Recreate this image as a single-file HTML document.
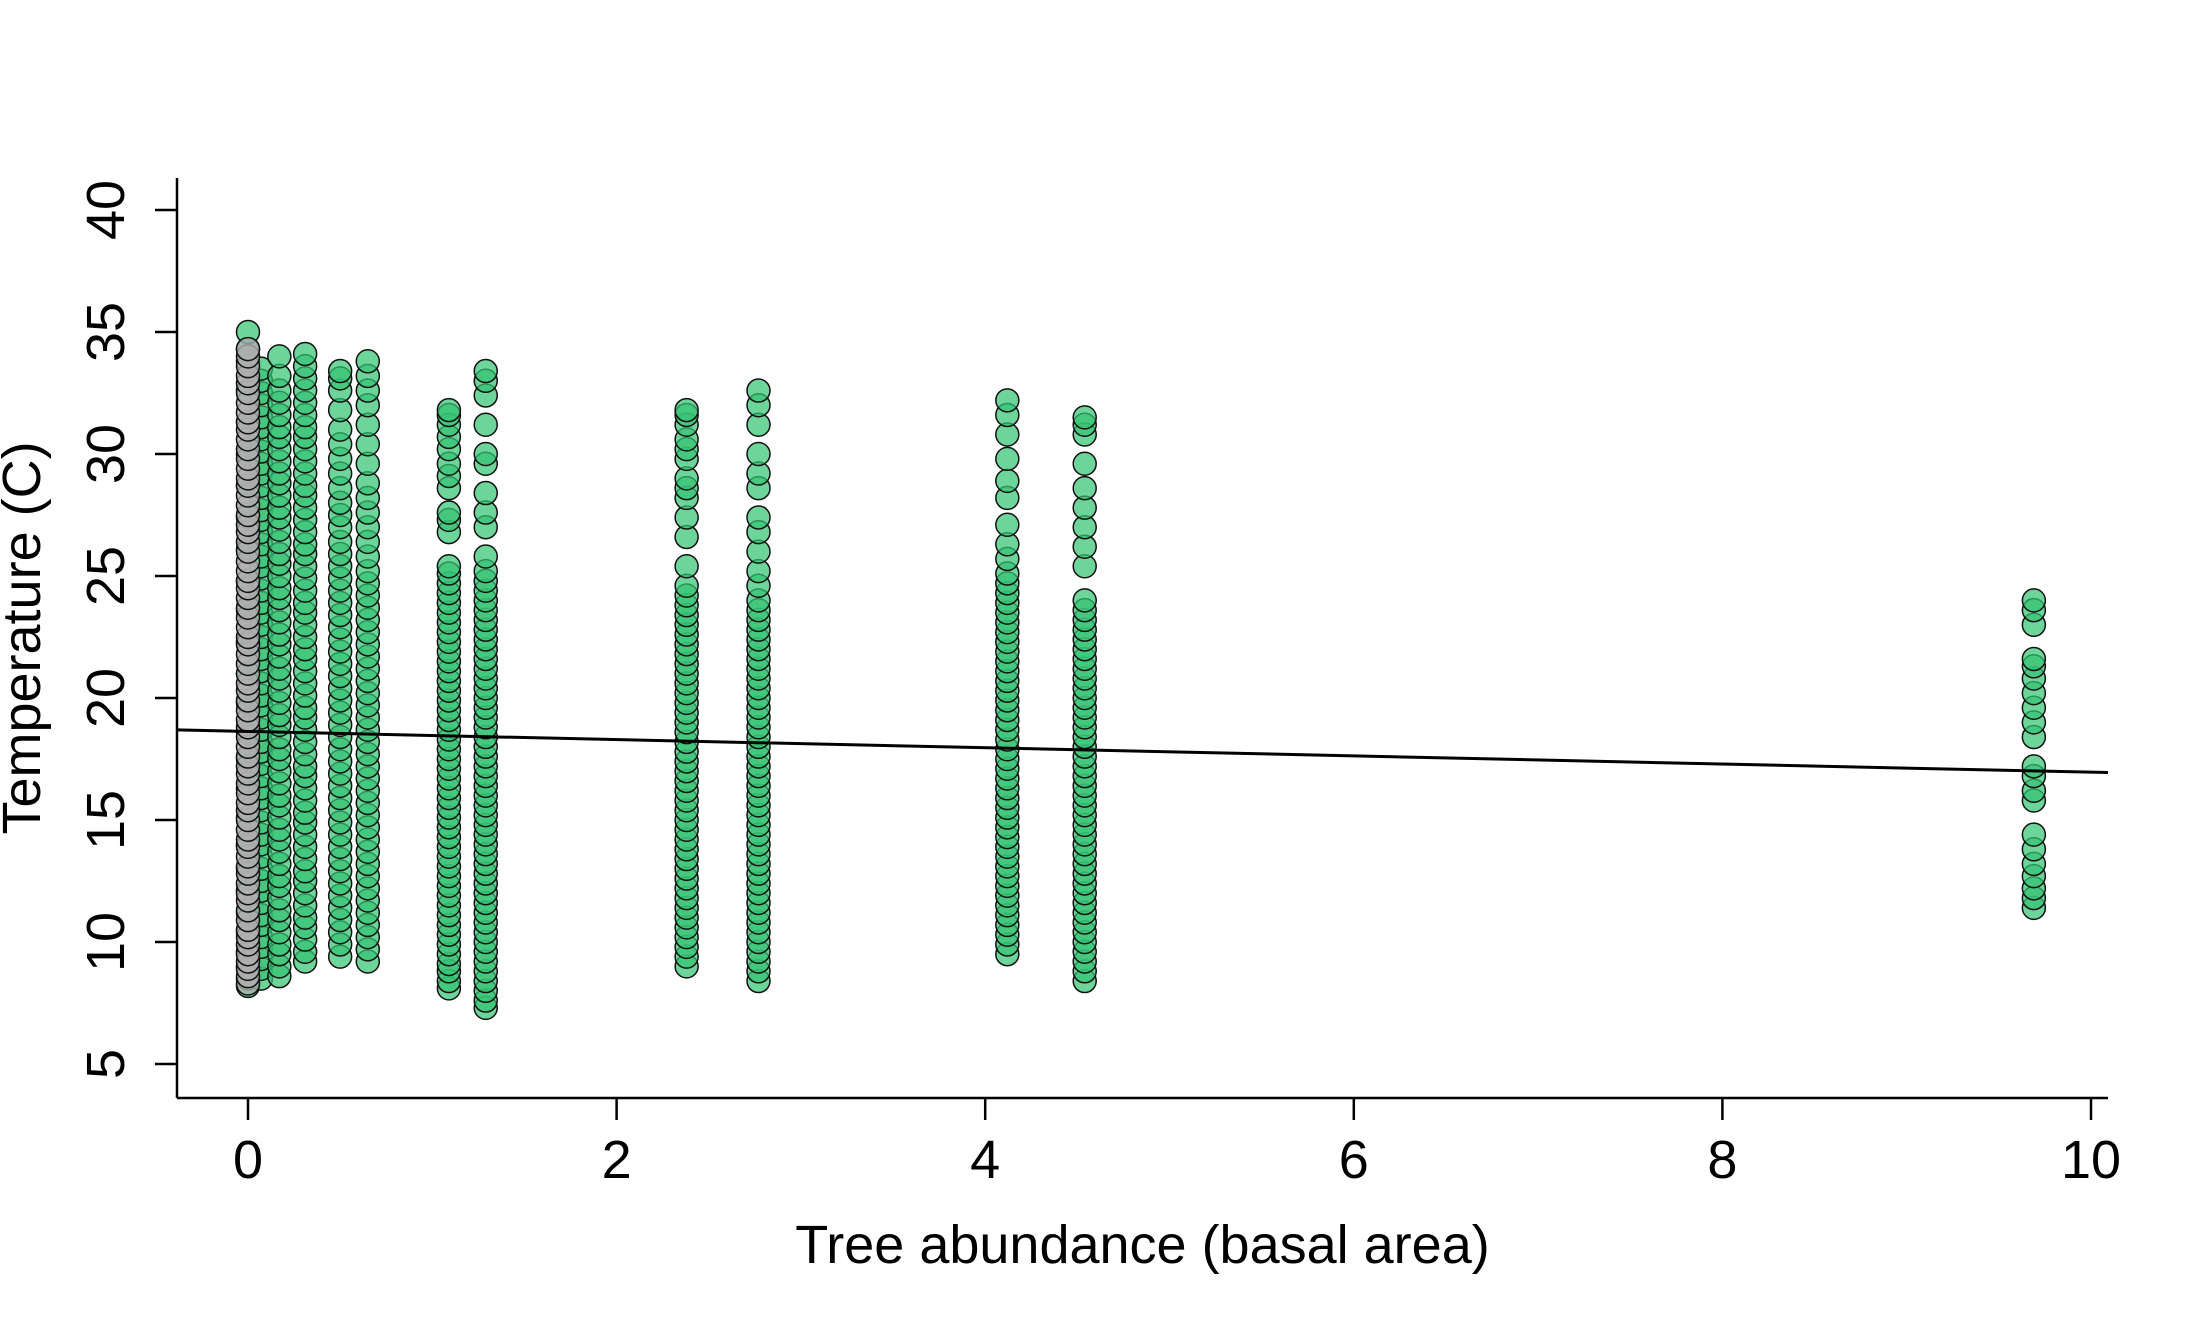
<!DOCTYPE html>
<html><head><meta charset="utf-8"><style>
html,body{margin:0;padding:0;background:#fff;}
svg{display:block;}
text{font-family:"Liberation Sans",sans-serif;fill:#000;}
</style></head><body>
<svg id="chart" width="2200" height="1320" viewBox="0 0 2200 1320" xmlns="http://www.w3.org/2000/svg">
<g id="points"></g>
<g id="axes"></g>
</svg>
<script>
const xTicks = [0, 2, 4, 6, 8, 10];
const yTicks = [5, 10, 15, 20, 25, 30, 35, 40];
const groupX = [0.0, 0.07, 0.0, 0.17, 0.31, 0.50, 0.65, 1.09, 1.29, 2.38, 2.77, 4.12, 4.54, 9.69];
const groupKind = ["green","green","grey","green","green","green","green","green","green","green","green","green","green","green"];
const t0green = [8.2,8.5,9.0,9.6,10.4,11.2,12.1,13.0,14.0,15.1,16.3,17.5,18.6,19.8,21.0,22.3,23.6,24.8,26.1,27.4,28.7,30.0,31.3,32.6,33.8,34.3,35.0];
const t0grey = [8.3,8.6,8.9,9.2,9.5,9.9,10.2,10.5,10.9,11.3,11.7,12.0,12.4,12.8,13.1,13.5,13.9,14.2,14.6,15.0,15.4,15.7,16.1,16.5,16.9,17.2,17.6,18.0,18.4,18.8,19.1,19.5,19.9,20.3,20.6,21.0,21.4,21.8,22.2,22.5,22.9,23.3,23.7,24.1,24.5,24.8,25.2,25.6,26.0,26.4,26.8,27.1,27.5,27.9,28.3,28.7,29.0,29.4,29.8,30.2,30.6,31.0,31.3,31.7,32.1,32.5,32.9,33.2,33.6,34.0,34.3];
const t1 = [8.5,8.9,9.3,9.8,10.2,10.7,11.1,11.6,12.1,12.5,13.0,13.5,14.0,14.4,14.9,15.4,15.9,16.3,16.8,17.3,17.8,18.2,18.7,19.2,19.7,20.1,20.6,21.1,21.6,22.0,22.5,23.0,23.5,23.9,24.4,24.9,25.4,25.8,26.3,26.8,27.3,27.7,28.2,28.7,29.2,29.6,30.1,30.6,31.1,31.5,32.0,32.5,33.0,33.5];
const t2 = [8.6,9.0,9.5,9.9,10.4,10.9,11.3,11.8,12.3,12.7,13.2,13.7,14.2,14.6,15.1,15.6,16.0,16.5,17.0,17.5,17.9,18.4,18.9,19.3,19.8,20.3,20.8,21.2,21.7,22.2,22.6,23.1,23.6,24.1,24.5,25.0,25.5,25.9,26.4,26.9,27.4,27.8,28.3,28.8,29.2,29.7,30.2,30.7,31.1,31.6,32.1,32.6,33.2,34.0];
const t3 = [9.2,9.6,10.1,10.6,11.0,11.5,12.0,12.5,12.9,13.4,13.9,14.4,14.9,15.3,15.8,16.3,16.8,17.2,17.7,18.2,18.7,19.2,19.6,20.1,20.6,21.1,21.6,22.0,22.5,23.0,23.5,23.9,24.4,24.9,25.4,25.9,26.3,26.8,27.3,27.8,28.3,28.7,29.2,29.7,30.2,30.7,31.1,31.6,32.1,32.6,33.1,33.6,34.1];
const t4 = [9.4,9.9,10.4,10.9,11.4,11.9,12.4,12.9,13.4,13.9,14.4,14.9,15.4,15.9,16.4,16.9,17.4,17.9,18.4,18.9,19.4,19.9,20.4,20.9,21.4,21.9,22.4,22.9,23.4,23.9,24.4,24.9,25.4,25.9,26.4,27.0,27.5,28.0,28.6,29.2,29.8,30.4,31.0,31.8,32.6,33.1,33.4];
const t5 = [9.2,9.7,10.2,10.7,11.2,11.7,12.2,12.7,13.2,13.7,14.2,14.7,15.2,15.7,16.2,16.7,17.2,17.7,18.2,18.7,19.2,19.7,20.2,20.7,21.2,21.7,22.2,22.7,23.2,23.7,24.2,24.7,25.2,25.8,26.4,27.0,27.6,28.2,28.8,29.6,30.4,31.2,32.0,32.6,33.2,33.8];
const t6 = [8.1,8.4,8.8,9.1,9.5,9.9,10.3,10.7,11.1,11.5,11.9,12.3,12.7,13.1,13.5,13.9,14.3,14.7,15.1,15.5,15.9,16.3,16.7,17.1,17.5,17.9,18.3,18.7,19.1,19.5,19.9,20.3,20.7,21.1,21.5,21.9,22.3,22.7,23.1,23.5,23.9,24.3,24.7,25.1,25.4,26.8,27.3,27.6,28.6,29.1,29.6,30.2,30.7,31.2,31.6,31.8];
const t7 = [7.3,7.6,8.0,8.4,8.8,9.2,9.6,10.0,10.4,10.8,11.2,11.6,12.0,12.4,12.8,13.2,13.6,14.0,14.4,14.8,15.2,15.6,16.0,16.4,16.8,17.2,17.6,18.0,18.4,18.8,19.2,19.6,20.0,20.4,20.8,21.2,21.6,22.0,22.4,22.8,23.2,23.6,24.0,24.4,24.8,25.2,25.8,27.0,27.6,28.4,29.6,30.0,31.2,32.4,33.0,33.4];
const t8 = [9.0,9.4,9.8,10.2,10.6,11.0,11.4,11.8,12.2,12.6,13.0,13.4,13.8,14.2,14.6,15.0,15.4,15.8,16.2,16.6,17.0,17.4,17.8,18.2,18.6,19.0,19.4,19.8,20.2,20.6,21.0,21.4,21.8,22.2,22.6,23.0,23.4,23.8,24.2,24.6,25.4,26.6,27.4,28.2,28.6,29.0,29.8,30.2,30.6,31.2,31.6,31.8];
const t9 = [8.4,8.8,9.2,9.6,10.0,10.4,10.8,11.2,11.6,12.0,12.4,12.8,13.2,13.6,14.0,14.4,14.8,15.2,15.6,16.0,16.4,16.8,17.2,17.6,18.0,18.4,18.8,19.2,19.6,20.0,20.4,20.8,21.2,21.6,22.0,22.4,22.8,23.2,23.6,24.0,24.6,25.2,26.0,26.8,27.4,28.6,29.2,30.0,31.2,32.0,32.6];
const t10 = [9.5,9.9,10.3,10.7,11.1,11.5,11.9,12.3,12.7,13.1,13.5,13.9,14.3,14.7,15.1,15.5,15.9,16.3,16.7,17.1,17.5,17.9,18.3,18.7,19.1,19.5,19.9,20.3,20.7,21.1,21.5,21.9,22.3,22.7,23.1,23.5,23.9,24.3,24.7,25.1,25.7,26.3,27.1,28.2,28.9,29.8,30.8,31.6,32.2];
const t11 = [8.4,8.8,9.2,9.6,10.0,10.4,10.8,11.2,11.6,12.0,12.4,12.8,13.2,13.6,14.0,14.4,14.8,15.2,15.6,16.0,16.4,16.8,17.2,17.6,18.0,18.4,18.8,19.2,19.6,20.0,20.4,20.8,21.2,21.6,22.0,22.4,22.8,23.2,23.6,24.0,25.4,26.2,27.0,27.8,28.6,29.6,30.8,31.2,31.5];
const t12 = [11.4,11.8,12.2,12.7,13.2,13.8,14.4,15.8,16.2,16.8,17.2,18.4,19.0,19.6,20.2,20.8,21.3,21.6,23.0,23.6,24.0];
const groups = [t0green,t1,t0grey,t2,t3,t4,t5,t6,t7,t8,t9,t10,t11,t12];
const fitIntercept = 18.63;
const fitSlope = -0.167;

const NS = "http://www.w3.org/2000/svg";
const L = 177, R = 2108, T = 178, B = 1098;
function xs(v){ return 248 + v * (2091 - 248) / 10; }
function ys(v){ return 1064 - (v - 5) * (1064 - 210) / 35; }
const xMin = (L - 248) / ((2091 - 248) / 10), xMax = (R - 248) / ((2091 - 248) / 10);

const pts = document.getElementById('points');
groups.forEach((arr, gi) => {
  arr.forEach(v => {
    const c = document.createElementNS(NS, 'circle');
    c.setAttribute('cx', xs(groupX[gi]));
    c.setAttribute('cy', ys(v));
    c.setAttribute('r', 11.5);
    c.setAttribute('fill', groupKind[gi] === 'grey' ? 'rgba(175,175,175,0.8)' : 'rgba(52,195,115,0.72)');
    c.setAttribute('stroke', '#111');
    c.setAttribute('stroke-width', '1.5');
    
    
    pts.appendChild(c);
  });
});

const ax = document.getElementById('axes');
function add(tag, attrs, text){
  const e = document.createElementNS(NS, tag);
  for (const k in attrs) e.setAttribute(k, attrs[k]);
  if (text !== undefined) e.textContent = text;
  ax.appendChild(e);
  return e;
}
const fit = add('line', {x1:L, y1:ys(fitIntercept + fitSlope*xMin), x2:R, y2:ys(fitIntercept + fitSlope*xMax), stroke:'#000', 'stroke-width':3});


const yl = add('line', {x1:L, y1:T, x2:L, y2:B, stroke:'#000', 'stroke-width':2.5});


const xl = add('line', {x1:L, y1:B, x2:R, y2:B, stroke:'#000', 'stroke-width':2.5});


yTicks.forEach(v => {
  const tk = add('line', {x1:L-22, y1:ys(v), x2:L, y2:ys(v), stroke:'#000', 'stroke-width':2.5});
  
  
  const tx = add('text', {x:0, y:0, transform:`translate(124,${ys(v)}) rotate(-90)`, 'text-anchor':'middle', 'font-size':54}, String(v));
  
  
});
xTicks.forEach(v => {
  const tk = add('line', {x1:xs(v), y1:B, x2:xs(v), y2:B+22, stroke:'#000', 'stroke-width':2.5});
  
  
  const tx = add('text', {x:xs(v), y:1178, 'text-anchor':'middle', 'font-size':54}, String(v));
  
  
});
const xt = add('text', {x:(L+R)/2, y:1263, 'text-anchor':'middle', 'font-size':54}, 'Tree abundance (basal area)');


const yt = add('text', {x:0, y:0, transform:`translate(40,${(T+B)/2}) rotate(-90)`, 'text-anchor':'middle', 'font-size':54}, 'Temperature (C)');


</script>
</body></html>
